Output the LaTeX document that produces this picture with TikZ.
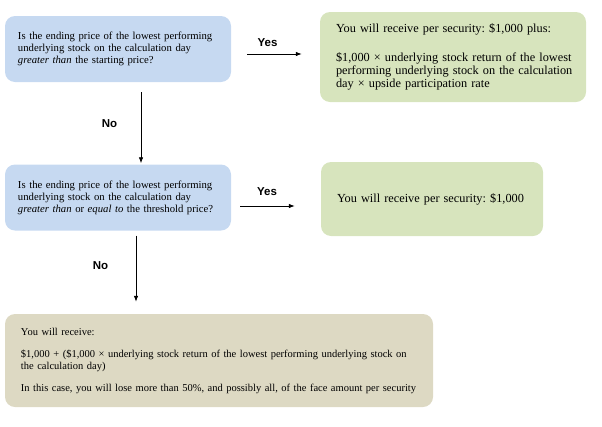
\documentclass[tikz,border=0pt]{standalone}
\usepackage{fontspec}
\setmainfont{Liberation Serif}
\newfontfamily\labelfont{Liberation Sans}
\usetikzlibrary{positioning,arrows.meta}
\definecolor{askblue}{HTML}{C6D9F1}
\definecolor{paygreen}{HTML}{D7E4BD}
\definecolor{losstan}{HTML}{DDD9C3}
\frenchspacing

\begin{document}
\begin{tikzpicture}[x=1pt,y=-1pt,auto,
	>={Latex[length=6pt,width=4.5pt]},
	box/.style={rounded corners=10pt, inner xsep=0pt, inner ysep=0pt, align=left},
	question/.style={box, fill=askblue, text width=226pt, minimum height=66pt,
		font=\fontsize{10.7}{12}\selectfont, execute at begin node={\leftskip=13pt}},
	payout/.style={box, fill=paygreen, font=\fontsize{12.3}{13}\selectfont,
		execute at begin node={\leftskip=16pt}},
	loss/.style={box, fill=losstan, text width=428pt, minimum height=93pt,
		font=\fontsize{10.5}{12}\selectfont, execute at begin node={\leftskip=16pt}},
	answer/.style={font=\labelfont\bfseries\fontsize{11.5}{13}\selectfont}]
	\useasboundingbox (0,0) rectangle (602,426);
	\node[question] (q_1) at (118,49) {Is the ending price of the lowest performing\\
		underlying stock on the calculation day\\
		\textit{greater than} the starting price?};
	\node[question, on grid, below=148.5pt of q_1] (q_2) {Is the ending price of the lowest performing\\
		underlying stock on the calculation day\\
		\textit{greater than} or \textit{equal to} the threshold price?};
	\node[payout, text width=266pt, minimum height=90pt] (p_1) at (453,57) {You will receive per security: \$1,000 plus:\\[16pt]
		\$1,000 × underlying stock return of the lowest\\
		performing underlying stock on the calculation\\
		day × upside participation rate};
	\node[payout, text width=222pt, minimum height=74pt] (p_2) at (432,199) {You will receive per security: \$1,000};
	\node[loss] (l_1) at (219,360.5) {You will receive:\\[10pt]
		\$1,000 + (\$1,000 × underlying stock return of the lowest performing underlying stock on\\
		the calculation day)\\[10pt]
		In this case, you will lose more than 50\%, and possibly all, of the face amount per security};
	\path[->, line width=0.8pt]
	([yshift=-5pt]q_1.east)
	edge [shorten <=16pt, shorten >=18pt] node[answer, above=4pt, xshift=-8pt] {Yes} ([yshift=3pt]p_1.west)
	([xshift=23pt]q_1.south)
	edge [shorten <=10pt, shorten >=1pt] node[answer, left=20pt] {No} ([xshift=23pt]q_2.north)
	([yshift=-8.5pt]q_2.east)
	edge [shorten <=9pt, shorten >=26pt] node[answer, above=7pt, xshift=-9pt] {Yes} ([yshift=-7pt]p_2.west)
	([xshift=18pt]q_2.south)
	edge [shorten <=5pt, shorten >=12pt] node[answer, left=24pt, yshift=6.5pt] {No} ([xshift=-83pt]l_1.north);
\end{tikzpicture}
\end{document}
